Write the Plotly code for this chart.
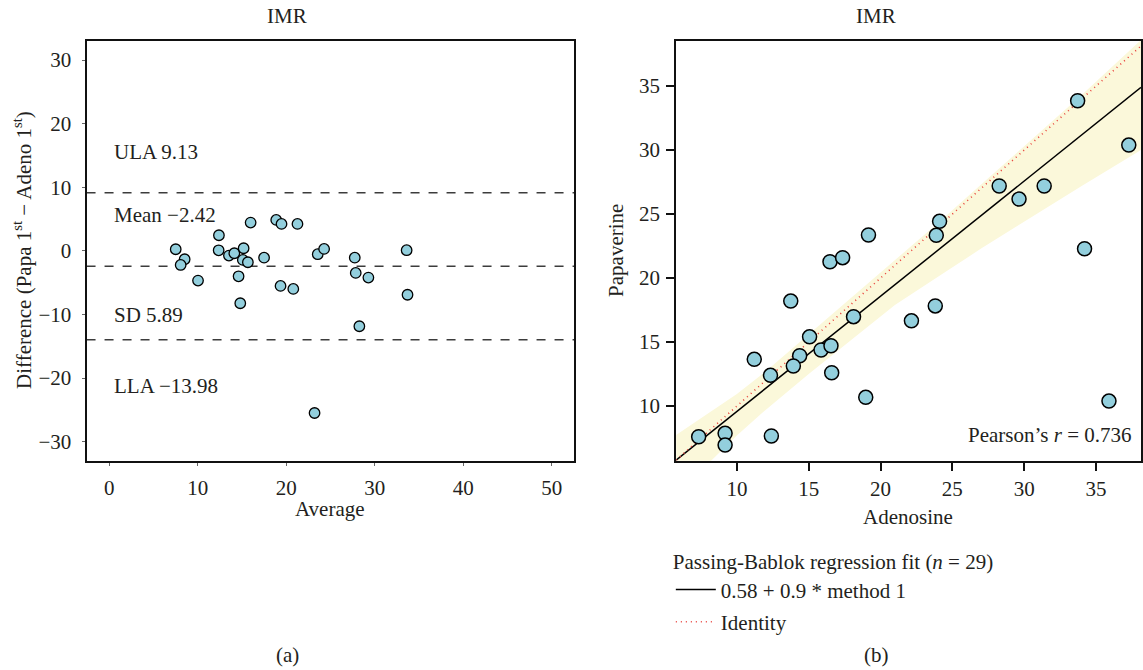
import numpy as np
import plotly.graph_objects as go

W, H = 1143, 670
FONT = "Liberation Serif, DejaVu Serif, serif"
TXT = "#231f20"
FILL = "#93cfdd"
FS = 21

# ---------- (a) Bland-Altman data ----------
ba_avg = [7.52, 8.53, 8.08, 10.04, 12.4, 12.37, 13.53, 14.14, 14.62, 14.81,
          15.19, 15.1, 15.67, 15.98, 17.5, 18.87, 19.47, 21.27, 19.36, 20.8,
          23.56, 24.28, 27.74, 27.85, 29.28, 28.26, 23.2, 33.6, 33.7]
ba_diff = [0.25, -1.32, -2.22, -4.68, 2.45, 0.09, -0.75, -0.38, -4.0, -8.24,
           0.41, -1.43, -1.79, 4.44, -1.07, 4.86, 4.23, 4.23, -5.52, -5.99,
           -0.53, 0.3, -1.07, -3.47, -4.21, -11.86, -25.5, 0.1, -6.9]
ba_ula, ba_mean, ba_lla, ba_sd = 9.13, -2.42, -13.98, 5.89
ba_xticks = [0, 10, 20, 30, 40, 50]
ba_yticks = [-30, -20, -10, 0, 10, 20, 30]

# ---------- (b) Passing-Bablok data ----------
adeno = [19.16, 16.48, 17.36, 13.75, 33.72, 37.28, 28.26, 29.64, 31.39, 24.11,
         23.88, 34.2, 23.81, 18.12, 15.06, 15.86, 16.55, 14.37, 13.93, 11.21,
         12.34, 16.6, 18.97, 7.34, 9.18, 9.18, 12.4, 22.15, 35.9]
papa = [23.36, 21.27, 21.59, 18.2, 33.85, 30.39, 27.19, 26.17, 27.19, 24.43,
        23.34, 22.29, 17.82, 16.98, 15.41, 14.38, 14.71, 13.93, 13.13, 13.65,
        12.4, 12.6, 10.68, 7.6, 7.87, 6.95, 7.66, 16.66, 10.39]
pb_intercept, pb_slope = 0.58, 0.9
pb_n, pearson_r = 29, 0.736
band_x = [5.77, 8, 10, 12, 15, 18, 21, 24, 27, 30, 34, 38.13]
band_up = [7.73, 9.45, 10.95, 12.7, 15.6, 18.5, 21.4, 24.3, 27.3, 30.3, 34.3, 38.6]
band_lo = [3.2, 5.5, 7.7, 9.7, 12.5, 15.2, 17.9, 20.1, 22.3, 24.4, 27.2, 30.0]
pb_xticks = [10, 15, 20, 25, 30, 35]
pb_yticks = [10, 15, 20, 25, 30, 35]

XR_A = [-2.55, 52.5]
YR_A = [-33, 33]
XR_B = [5.77, 38.13]
YR_B = [5.73, 38.52]


def px(v):
    return v / W


def py(v):
    return 1 - v / H


fig = go.Figure()

# (a) reference lines then scatter
for val in (ba_ula, ba_mean, ba_lla):
    fig.add_trace(go.Scatter(x=XR_A, y=[val, val], mode="lines", xaxis="x", yaxis="y",
                             line=dict(color="#3c3c3c", width=1.5, dash="dash"),
                             showlegend=False, hoverinfo="skip"))
fig.add_trace(go.Scatter(x=ba_avg, y=ba_diff, mode="markers", xaxis="x", yaxis="y",
                         marker=dict(size=10.5, color=FILL, line=dict(color="black", width=1.3)),
                         showlegend=False, cliponaxis=False))

# (b) band
fig.add_trace(go.Scatter(x=band_x + band_x[::-1], y=band_up + band_lo[::-1], fill="toself",
                         fillcolor="#fbf8da", line=dict(width=0), mode="lines",
                         xaxis="x2", yaxis="y2", showlegend=False, hoverinfo="skip"))
lx = np.array(XR_B)
fig.add_trace(go.Scatter(x=lx, y=pb_intercept + pb_slope * lx, mode="lines",
                         xaxis="x2", yaxis="y2", line=dict(color="black", width=1.5),
                         name=f"{pb_intercept} + {pb_slope} * method 1", legendgroup="a"))
fig.add_trace(go.Scatter(x=lx, y=lx, mode="lines", xaxis="x2", yaxis="y2",
                         line=dict(color="#e8403a", width=1.6, dash="1px,4px"),
                         name="Identity", legendgroup="b"))
fig.add_trace(go.Scatter(x=adeno, y=papa, mode="markers", xaxis="x2", yaxis="y2",
                         marker=dict(size=14, color=FILL, line=dict(color="black", width=1.5)),
                         showlegend=False, cliponaxis=False))

ax_common = dict(showgrid=False, zeroline=False, showline=True, mirror=True,
                 linecolor="#111", linewidth=2, ticks="outside",
                 tickfont=dict(family=FONT, size=FS, color=TXT))

fig.update_layout(
    width=W, height=H, autosize=False,
    margin=dict(l=0, r=0, t=0, b=0),
    paper_bgcolor="white", plot_bgcolor="white",
    font=dict(family=FONT, size=FS, color=TXT),
    xaxis=dict(domain=[px(86.7), px(575)], range=XR_A, tickvals=ba_xticks,
               ticklen=3, tickcolor="#666", ticklabelstandoff=4, anchor="y", **ax_common),
    yaxis=dict(domain=[py(460.7), py(41)], range=YR_A, tickvals=ba_yticks,
               ticklen=3, tickcolor="#666", ticklabelstandoff=6, anchor="x", **ax_common),
    xaxis2=dict(domain=[px(677.3), 1.0], range=XR_B, tickvals=pb_xticks,
                ticklen=8, tickcolor="#111", tickwidth=1.5, ticklabelstandoff=0,
                anchor="y2", **ax_common),
    yaxis2=dict(domain=[py(460.7), py(41)], range=YR_B, tickvals=pb_yticks,
                ticklen=8, tickcolor="#111", tickwidth=1.5, ticklabelstandoff=2,
                anchor="x2", **ax_common),
    legend=dict(x=px(672), y=py(542), xanchor="left", yanchor="top",
                bgcolor="rgba(0,0,0,0)", font=dict(family=FONT, size=FS, color=TXT),
                title=dict(text=f"Passing-Bablok regression fit (<i>n</i> = {pb_n})",
                           font=dict(family=FONT, size=FS, color=TXT)),
                traceorder="grouped", tracegroupgap=2, itemwidth=40),
    showlegend=True,
)

ann = []


def add_text(x, y, text, xa="center", ya="middle", size=FS, xref="paper", yref="paper", angle=0):
    ann.append(dict(x=x, y=y, xref=xref, yref=yref, text=text, showarrow=False,
                    xanchor=xa, yanchor=ya, textangle=angle,
                    font=dict(family=FONT, size=size, color=TXT)))


# titles & captions
add_text(px(288), py(16), "IMR")
add_text(px(878), py(16), "IMR")
add_text(px(288), py(669), "(a)", ya="bottom")
add_text(px(878), py(669), "(b)", ya="bottom")
# axis titles
add_text(px(331), py(509), "Average")
add_text(px(910), py(517), "Adenosine")
add_text(px(23), py(250), "Difference (Papa 1<sup>st</sup> − Adeno 1<sup>st</sup>)", angle=-90)
add_text(px(617), py(250), "Papaverine", angle=-90)
# (a) limit labels
add_text(0.38, 15.55, f"ULA {ba_ula}", xa="left", xref="x", yref="y")
add_text(0.38, 5.64, f"Mean −{abs(ba_mean)}", xa="left", xref="x", yref="y")
add_text(0.38, -10.1, f"SD {ba_sd}", xa="left", xref="x", yref="y")
add_text(0.38, -21.3, f"LLA −{abs(ba_lla)}", xa="left", xref="x", yref="y")
# (b) pearson
add_text(px(1136), py(435), f"Pearson’s <i>r</i> = {pearson_r}", xa="right")
fig.update_layout(annotations=ann)

fig.write_html("out.html")
